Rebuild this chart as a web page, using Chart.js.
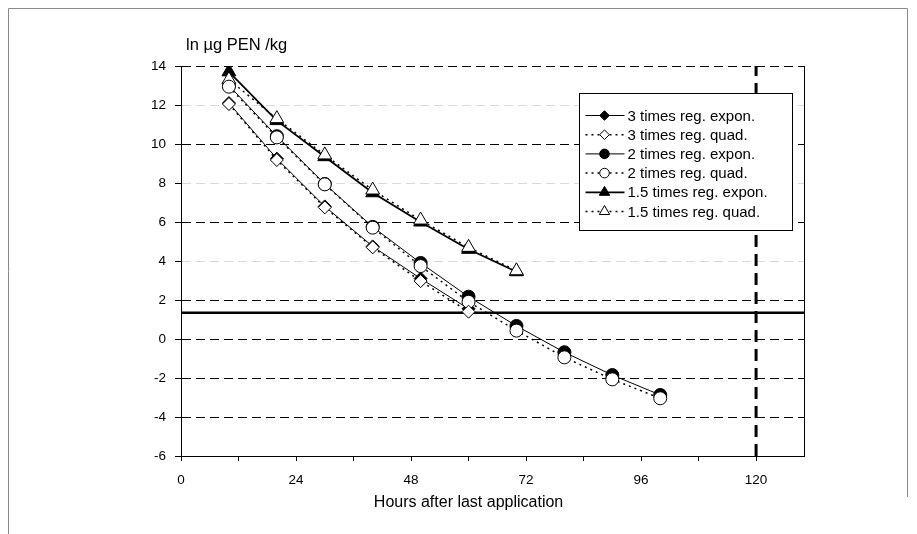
<!DOCTYPE html>
<html>
<head>
<meta charset="utf-8">
<title>PEN residues</title>
<script src="https://cdn.jsdelivr.net/npm/chart.js@4.4.0/dist/chart.umd.min.js"></script>
<style>
  html, body { margin: 0; padding: 0; background: #fff; }
  #wrap { width: 917px; height: 534px; }
</style>
</head>
<body>
<div id="wrap"><canvas id="penChart" width="917" height="534"></canvas></div>
<script>
// sampling times (h after last application)
const hours3 = [10, 20, 30, 40, 50, 60];
const hours2 = [10, 20, 30, 40, 50, 60, 70, 80, 90, 100];
const hours15 = [10, 20, 30, 40, 50, 60, 70];

// ln µg PEN /kg per dosage group and regression type
const times3Expon = [12.1, 9.25, 6.8, 4.75, 3.1, 1.55];
const times3Quad = [12.05, 9.18, 6.75, 4.7, 2.97, 1.4];
const times2Expon = [13.0, 10.4, 7.95, 5.75, 3.9, 2.17, 0.67, -0.68, -1.85, -2.87];
const times2Quad = [12.94, 10.34, 7.93, 5.71, 3.74, 1.91, 0.43, -0.94, -2.07, -3.04];
const times15Expon = [13.7, 11.2, 9.35, 7.5, 6.0, 4.6, 3.45];
const times15Quad = [13.3, 11.3, 9.44, 7.64, 6.1, 4.7, 3.5];

const seriesLabels = [
  "3 times reg. expon.", "3 times reg. quad.",
  "2 times reg. expon.", "2 times reg. quad.",
  "1.5 times reg. expon.", "1.5 times reg. quad."
];

// limit level and withdrawal time
const limitLevel = 1.35;
const withdrawalHours = 120;

const xRange = [0, 130];
const yRange = [-6, 14];
const fadedGrid = [12, 8, 4];

const FONT = "'Liberation Sans', Arial, sans-serif";

function pts(xs, ys) {
  return xs.map(function (x, i) { return { x: x, y: ys[i] }; });
}

function series(label, xs, ys, style, filled, quad, width) {
  return {
    label: label,
    data: pts(xs, ys),
    showLine: true,
    inLegend: true,
    borderColor: "#000",
    borderWidth: width || 1,
    borderDash: quad ? [2, 4] : [],
    pointStyle: style,
    pointRadius: style === "triangle" ? 8 : 6.5,
    pointBorderWidth: 1,
    pointBorderColor: "#000",
    pointBackgroundColor: filled ? "#000" : "#fff",
    tension: 0,
    order: quad ? 1 : 2
  };
}

const datasets = [
  series(seriesLabels[0], hours3, times3Expon, "rectRot", true, false),
  series(seriesLabels[1], hours3, times3Quad, "rectRot", false, true, 1.5),
  series(seriesLabels[2], hours2, times2Expon, "circle", true, false),
  series(seriesLabels[3], hours2, times2Quad, "circle", false, true, 1.5),
  series(seriesLabels[4], hours15, times15Expon, "triangle", true, false, 1.8),
  series(seriesLabels[5], hours15, times15Quad, "triangle", false, true, 1.5),
  {
    label: "limit",
    data: [{ x: xRange[0], y: limitLevel }, { x: xRange[1], y: limitLevel }],
    showLine: true,
    borderColor: "#000",
    borderWidth: 2.5,
    pointRadius: 0,
    order: 5
  },
  {
    label: "withdrawal",
    data: [{ x: withdrawalHours, y: yRange[0] }, { x: withdrawalHours, y: yRange[1] }],
    showLine: true,
    borderColor: "#000",
    borderWidth: 3,
    borderDash: [12, 7],
    pointRadius: 0,
    order: 5
  }
];

// outer frame, right frame line, boxed legend and axis captions
const extras = {
  id: "extras",
  beforeDraw(chart) {
    const ctx = chart.ctx;
    ctx.save();
    ctx.strokeStyle = "#8a8a8a";
    ctx.lineWidth = 1;
    ctx.beginPath();
    ctx.moveTo(8.5, chart.height);
    ctx.lineTo(8.5, 8.5);
    ctx.lineTo(907.5, 8.5);
    ctx.lineTo(907.5, 497);
    ctx.stroke();
    ctx.restore();
  },
  beforeDatasetsDraw(chart) {
    const ctx = chart.ctx, a = chart.chartArea;
    ctx.save();
    ctx.strokeStyle = "#000";
    ctx.lineWidth = 1;
    ctx.beginPath();
    ctx.moveTo(Math.round(a.right) + 0.5, a.top);
    ctx.lineTo(Math.round(a.right) + 0.5, a.bottom);
    ctx.stroke();
    ctx.restore();
  },
  afterDraw(chart) {
    const ctx = chart.ctx, a = chart.chartArea;
    const xs = chart.scales.x;

    ctx.save();
    ctx.fillStyle = "#000";
    ctx.textBaseline = "middle";
    ctx.textAlign = "left";
    ctx.font = "16.5px " + FONT;
    ctx.fillText("ln µg PEN /kg", a.left + 5, a.top - 21);

    ctx.textAlign = "center";
    ctx.font = "16px " + FONT;
    const mid = (xs.getPixelForValue(0) + xs.getPixelForValue(withdrawalHours)) / 2;
    ctx.fillText("Hours after last application", mid, a.bottom + 47);

    // legend
    const boxW = 213, boxH = 137;
    const bx = Math.round(a.right - 12 - boxW) + 0.5;
    const by = Math.round(a.top + 27) + 0.5;
    ctx.fillStyle = "#fff";
    ctx.fillRect(bx, by, boxW, boxH);
    ctx.strokeStyle = "#000";
    ctx.lineWidth = 1;
    ctx.strokeRect(bx, by, boxW, boxH);

    const entries = chart.data.datasets.filter(function (d) { return d.inLegend; });
    entries.forEach(function (d, i) {
      const y = by + 22 + i * 19.2;
      const x0 = bx + 6, x1 = bx + 45, xm = bx + 25;
      ctx.strokeStyle = "#000";
      ctx.lineWidth = d.borderWidth;
      ctx.setLineDash(d.borderDash);
      ctx.beginPath();
      ctx.moveTo(x0, y);
      ctx.lineTo(x1, y);
      ctx.stroke();
      ctx.setLineDash([]);
      ctx.lineWidth = 1;
      ctx.fillStyle = d.pointBackgroundColor;
      Chart.helpers.drawPoint(ctx, {
        pointStyle: d.pointStyle,
        radius: d.pointStyle === "triangle" ? 6 : 4.8,
        rotation: 0,
        borderWidth: 1
      }, xm, y);
      ctx.fillStyle = "#000";
      ctx.font = "15px " + FONT;
      ctx.textAlign = "left";
      ctx.fillText(d.label, bx + 48, y + 1);
    });
    ctx.restore();
  }
};

new Chart(document.getElementById("penChart"), {
  type: "scatter",
  data: { datasets: datasets },
  options: {
    responsive: false,
    devicePixelRatio: 1,
    animation: false,
    layout: { padding: { left: 0, top: 66, right: 113, bottom: 0 } },
    plugins: {
      legend: { display: false },
      tooltip: { enabled: false }
    },
    scales: {
      x: {
        type: "linear",
        min: xRange[0],
        max: xRange[1],
        afterFit: function (scale) { scale.height = 78; },
        border: { color: "#000", width: 1 },
        grid: {
          drawOnChartArea: false,
          drawTicks: true,
          tickLength: 5,
          tickColor: "#000"
        },
        ticks: {
          stepSize: 12,
          includeBounds: false,
          autoSkip: false,
          maxRotation: 0,
          padding: 11,
          color: "#000",
          font: { family: FONT, size: 13.5 },
          callback: function (v) { return v % 24 === 0 ? v : ""; }
        }
      },
      y: {
        min: yRange[0],
        max: yRange[1],
        afterFit: function (scale) { scale.width = 181; },
        border: { color: "#000", width: 1, dash: [9, 5] },
        grid: {
          color: function (c) {
            return fadedGrid.indexOf(c.tick.value) >= 0 ? "#dadada" : "#000";
          },
          lineWidth: 1,
          tickLength: 6,
          tickColor: "#000"
        },
        ticks: {
          stepSize: 2,
          padding: 9,
          color: "#000",
          font: { family: FONT, size: 13.5 }
        }
      }
    }
  },
  plugins: [extras]
});
</script>
</body>
</html>
